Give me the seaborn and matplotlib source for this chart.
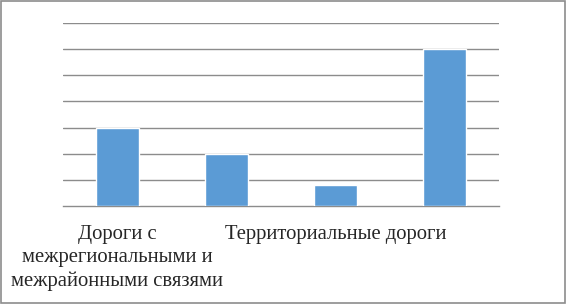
import matplotlib
matplotlib.use("Agg")
import matplotlib.pyplot as plt
import seaborn as sns
import pandas as pd
from matplotlib.patches import Rectangle

categories = ["Дороги с межрегиональными и межрайонными связями", "Категория 2",
              "Территориальные дороги", "Категория 4"]
values = [3.0, 2.0, 0.8, 6.0]
tick_labels = ["Дороги с\nмежрегиональными и\nмежрайонными связями", "",
               "Территориальные дороги", ""]

df = pd.DataFrame({"cat": categories, "val": values})

sns.set_style("white")
plt.rcParams['font.family'] = ['Liberation Serif', 'DejaVu Serif']

fig = plt.figure(figsize=(5.67, 3.04), dpi=100)
ax = fig.add_axes([0.1104, 0.3234, 0.7696, 0.5998])

sns.barplot(data=df, x="cat", y="val", order=categories, color="#5B9BD5",
            width=0.395, saturation=1, ax=ax, zorder=3)

ax.set_xlim(-0.5, 3.5)
ax.set_ylim(0, 7)
ax.set_yticks(range(1, 8))
ax.yaxis.grid(True, color="#8C8C8C", linewidth=1.0, zorder=0)
ax.set_axisbelow(True)
ax.tick_params(axis="y", left=False, labelleft=False)
for s in ["left", "right", "top"]:
    ax.spines[s].set_visible(False)
ax.spines["bottom"].set_color("#8C8C8C")
ax.spines["bottom"].set_linewidth(1.0)

ax.set_xticks(range(4))
ax.set_xticklabels(tick_labels, fontsize=14.9, linespacing=1.3, ha="center", va="top")
ax.set_xticks([-0.5, 0.5, 1.5, 2.5, 3.5], minor=True)
ax.tick_params(axis="x", which="major", length=0, pad=14)
ax.tick_params(axis="x", which="minor", length=5, width=1.0, color="#8C8C8C", direction="out")
ax.set_xlabel("")
ax.set_ylabel("")

fig.patches.append(Rectangle((0.002, 0.003), 0.995, 0.993, transform=fig.transFigure,
                             fill=False, edgecolor="#8C8C8C", linewidth=1.2))

fig.savefig("out.png", dpi=100)
